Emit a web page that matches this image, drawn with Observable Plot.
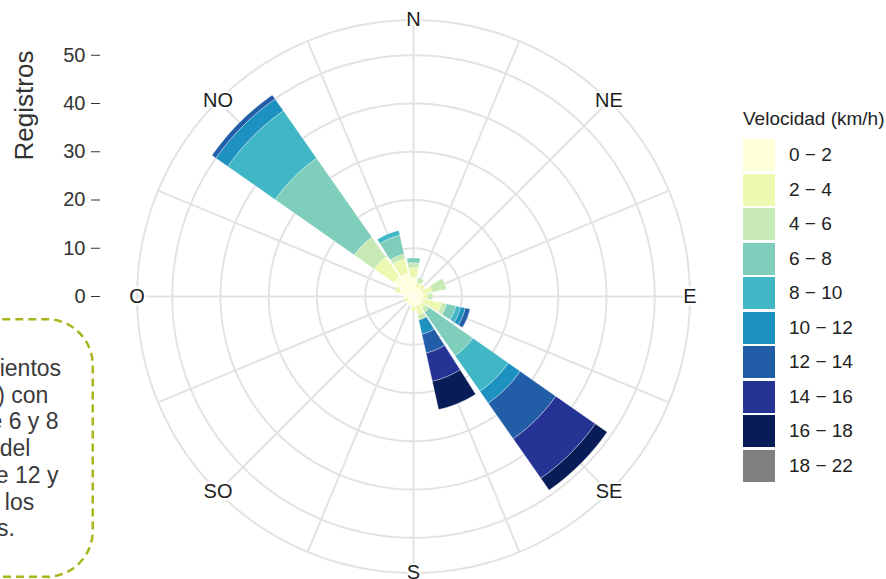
<!DOCTYPE html>
<html><head><meta charset="utf-8">
<script src="https://cdn.jsdelivr.net/npm/d3@7"></script>
<script src="https://cdn.jsdelivr.net/npm/@observablehq/plot@0.6"></script>
<style>
html,body{margin:0;padding:0;background:#fff;}
body{width:886px;height:579px;overflow:hidden;position:relative;font-family:"Liberation Sans",Arial,Helvetica,sans-serif;}
#chart{position:absolute;left:0;top:0;}
#note{position:absolute;left:-201px;top:318px;width:295px;height:262px;}
#note svg{position:absolute;left:0;top:0;}
#note .txt{position:absolute;left:23px;top:37px;font-size:23px;line-height:26.7px;color:#3a3a3a;white-space:nowrap;}
#legend{position:absolute;left:743px;top:0;color:#222;}
#legend .title{position:absolute;left:0;top:107px;font-size:19px;line-height:24px;white-space:nowrap;}
#legend .row{position:absolute;left:0;height:32px;display:flex;align-items:center;white-space:nowrap;font-size:19px;}
#legend .sw{width:32px;height:32px;margin-right:14px;}
</style></head><body>
<div id="chart"></div>
<div id="note">
<svg width="295" height="262"><rect x="1.25" y="1.25" width="292.5" height="257.5" rx="46" ry="46" fill="none" stroke="#a9b51d" stroke-width="2.5" stroke-dasharray="8 5"/></svg>
<div class="txt" id="notetxt"></div>
</div>
<div id="legend"></div>
<script>
// ---- data ----
const directions = ["N","NNE","NE","ENE","E","ESE","SE","SSE","S","SSO","SO","OSO","O","ONO","NO","NNO"];
const directionLabels = ["N","","NE","","E","","SE","","S","","SO","","O","","NO",""];
const speedBins = ["0 − 2","2 − 4","4 − 6","6 − 8","8 − 10","10 − 12","12 − 14","14 − 16","16 − 18","18 − 22"];
const binColors = ["#ffffd9","#edf8b1","#c7e9b4","#7fcdbb","#41b6c4","#1d91c0","#225ea8","#253494","#081d58","#808080"];
//            N NNE NE ENE E ESE SE SSE S SSO SO OSO O ONO NO NNO
const v0_2   = [4, 2, 2, 2, 2, 2, 2, 2, 2, 2, 2, 1, 2, 3, 5, 5];
const v2_4   = [2, 1, 1, 2, 1, 4, 1, 2, 1, 0, 0, 1, 0, 1, 5, 3];
const v4_6   = [1, 1, 0, 3, 1, 1, 1, 1, 0, 0, 0, 0, 0, 0, 5, 1];
const v6_8   = [1, 0, 0, 0, 0, 2,11, 0, 0, 0, 0, 0, 0, 0,20, 4];
const v8_10  = [0, 0, 0, 0, 0, 1, 9, 0, 0, 0, 0, 0, 0, 0,12, 1];
const v10_12 = [0, 0, 0, 0, 0, 1, 3, 3, 0, 0, 0, 0, 0, 0, 3, 0];
const v12_14 = [0, 0, 0, 0, 0, 1, 9, 4, 0, 0, 0, 0, 0, 0, 1, 0];
const v14_16 = [0, 0, 0, 0, 0, 0,10, 6, 0, 0, 0, 0, 0, 0, 0, 0];
const v16_18 = [0, 0, 0, 0, 0, 0, 3, 6, 0, 0, 0, 0, 0, 0, 0, 0];
const v18_22 = [0, 0, 0, 0, 0, 0, 0, 0, 0, 0, 0, 0, 0, 0, 0, 0];
const radialTicks = [0, 10, 20, 30, 40, 50];
const gridRadii = [10, 20, 30, 40, 50];
const noteLines = ["Predominan los vientos","del noroeste (NO) con","velocidades entre 6 y 8","km/h; los vientos del","sureste (SE) entre 12 y","16 km/h, que son los","registros máximos."];

// ---- layout config ----
const W = 886, H = 579, cx = 413, cy = 296, k = 4.825, mLeft = 100;
const rMax = 57.3, halfWidth = 10;
const titlePos = {px: 24, py: 105};

const series = [v0_2, v2_4, v4_6, v6_8, v8_10, v10_12, v12_14, v14_16, v16_18, v18_22];
const rad = d => d * Math.PI / 180;

// wedge polygons
const wedgePts = [];
directions.forEach((dir, i) => {
  let r0 = 0;
  const th = i * 360 / directions.length;
  series.forEach((vals, b) => {
    const v = vals[i];
    if (!v) return;
    const r1 = r0 + v;
    const id = dir + "-" + b;
    const n = 30, pts = [];
    for (let t = 0; t <= n; t++) {
      const a = rad(th - halfWidth + 2 * halfWidth * t / n);
      pts.push({id, bin: speedBins[b], x: r1 * Math.sin(a), y: r1 * Math.cos(a)});
    }
    for (let t = n; t >= 0; t--) {
      const a = rad(th - halfWidth + 2 * halfWidth * t / n);
      pts.push({id, bin: speedBins[b], x: r0 * Math.sin(a), y: r0 * Math.cos(a)});
    }
    pts.push({...pts[0]});
    wedgePts.push(...pts);
    r0 = r1;
  });
});

// grid circles
const circlePts = [];
[...gridRadii, rMax].forEach(r => {
  for (let t = 0; t <= 240; t++) {
    const a = t * 2 * Math.PI / 240;
    circlePts.push({r, x: r * Math.sin(a), y: r * Math.cos(a)});
  }
});
const spokes = directions.map((d, i) => ({a: rad(i * 360 / directions.length)}));
const labels = directions.map((d, i) => ({t: directionLabels[i], a: rad(i * 360 / directions.length)})).filter(d => d.t);

const xDomain = [(mLeft - cx) / k, (W - cx) / k];
const yDomain = [-(H - cy) / k, cy / k];

const plot = Plot.plot({
  width: W, height: H,
  marginLeft: mLeft, marginRight: 0, marginTop: 0, marginBottom: 0,
  x: {domain: xDomain, axis: null},
  y: {domain: yDomain, axis: null},
  color: {domain: speedBins, range: binColors},
  style: {fontFamily: '"Liberation Sans", Arial, Helvetica, sans-serif', fontSize: "20px", color: "#333", background: "transparent", overflow: "visible"},
  marks: [
    Plot.line(circlePts, {x: "x", y: "y", z: "r", stroke: "#e3e3e3", strokeWidth: 2}),
    Plot.link(spokes, {x1: 0, y1: 0, x2: d => rMax * Math.sin(d.a), y2: d => rMax * Math.cos(d.a), stroke: "#e3e3e3", strokeWidth: 2}),
    Plot.line(wedgePts, {x: "x", y: "y", z: "id", fill: "bin", stroke: "white", strokeWidth: 0.6, strokeOpacity: 0.6}),
    Plot.axisY({ticks: radialTicks, tickSize: 9, tickPadding: 6, fontSize: 20, label: null, anchor: "left", tickFormat: d => String(d)}),
    Plot.text(["Registros"], {text: d => d, x: (titlePos.px - cx) / k, y: (cy - titlePos.py) / k, rotate: -90, fontSize: 26, fill: "#333"}),
    Plot.text(labels, {x: d => rMax * Math.sin(d.a), y: d => rMax * Math.cos(d.a), text: "t", fontSize: 20, fill: "#1e1e1e", stroke: "white", strokeWidth: 4, paintOrder: "stroke"})
  ]
});
document.getElementById("chart").appendChild(plot);

// note
document.getElementById("notetxt").innerHTML = noteLines.map(l => `<div>${l}</div>`).join("");

// legend
const lg = document.getElementById("legend");
lg.innerHTML = `<div class="title">Velocidad (km/h)</div>` + speedBins.map((b, i) =>
  `<div class="row" style="top:${139.3 + i * 34.5}px"><div class="sw" style="background:${binColors[i]}"></div><span>${b}</span></div>`).join("");
</script>
</body></html>
